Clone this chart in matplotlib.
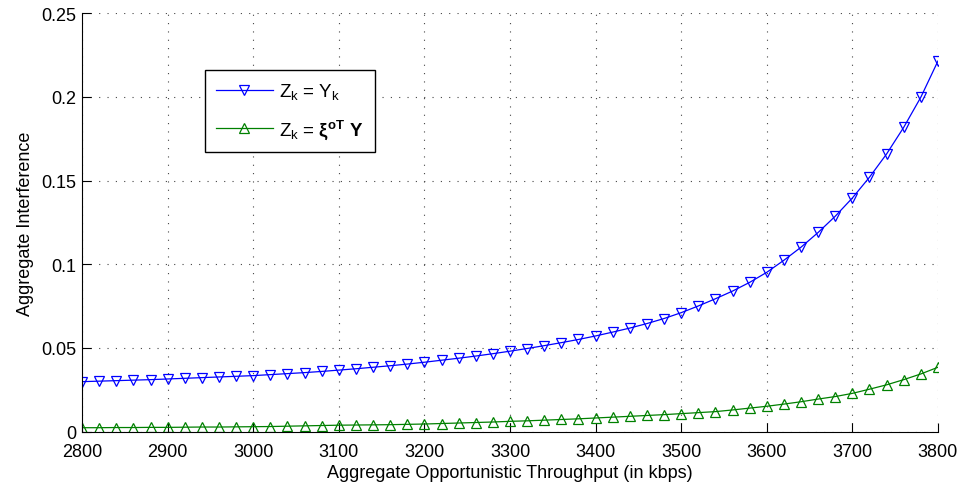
import numpy as np
import matplotlib
matplotlib.use("Agg")
from matplotlib import pyplot as plt

plt.rcParams['font.family'] = ['Liberation Sans', 'DejaVu Sans']
plt.rcParams['mathtext.fontset'] = 'custom'
plt.rcParams['mathtext.rm'] = 'Liberation Sans'
plt.rcParams['mathtext.it'] = 'Liberation Sans'
plt.rcParams['mathtext.bf'] = 'Liberation Sans:bold'

# throughput (kbps), one point every 20
throughput = np.arange(2800, 3801, 20)

# Z_k = Y_k
interf_y = [0.0299, 0.0302, 0.0305, 0.0308, 0.0311, 0.0315, 0.0319, 0.0323, 0.0327, 0.0331,
            0.0335, 0.0341, 0.0347, 0.0353, 0.0360, 0.0368, 0.0376, 0.0385, 0.0394, 0.0404,
            0.0415, 0.0427, 0.0439, 0.0452, 0.0466, 0.0481, 0.0497, 0.0514, 0.0532, 0.0551,
            0.0572, 0.0595, 0.0619, 0.0646, 0.0676, 0.0711, 0.0751, 0.0794, 0.0840, 0.0892,
            0.0952, 0.1024, 0.1102, 0.1190, 0.1287, 0.1396, 0.1520, 0.1659, 0.1818, 0.1998,
            0.2214]

# Z_k = xi^oT Y
interf_xi = [0.0024, 0.0024, 0.0025, 0.0025, 0.0026, 0.0026, 0.0027, 0.0028, 0.0028, 0.0029,
             0.0030, 0.0031, 0.0033, 0.0035, 0.0037, 0.0039, 0.0040, 0.0041, 0.0042, 0.0044,
             0.0046, 0.0049, 0.0052, 0.0055, 0.0058, 0.0062, 0.0065, 0.0069, 0.0073, 0.0077,
             0.0082, 0.0087, 0.0092, 0.0097, 0.0102, 0.0108, 0.0114, 0.0120, 0.0130, 0.0141,
             0.0152, 0.0165, 0.0179, 0.0195, 0.0210, 0.0229, 0.0254, 0.0280, 0.0311, 0.0345,
             0.0385]

x_ticks = [2800, 2900, 3000, 3100, 3200, 3300, 3400, 3500, 3600, 3700, 3800]
y_ticks = [0, 0.05, 0.1, 0.15, 0.2, 0.25]
y_tick_labels = ["0", "0.05", "0.1", "0.15", "0.2", "0.25"]

fig = plt.figure(figsize=(9.63, 4.89), dpi=100)
ax = fig.add_axes([0.0852, 0.1151, 0.8888, 0.856])

ax.plot(throughput, interf_y, color="#0000ff", lw=0.9, marker="v", ms=7.5,
        markerfacecolor="none", markeredgewidth=0.9, label=r"$Z_k$ = $Y_k$")
ax.plot(throughput, interf_xi, color="#008000", lw=0.9, marker="^", ms=7.5,
        markerfacecolor="none", markeredgewidth=0.9, label=r"$Z_k$ = $\mathbf{ξ^{oT}}$ $\mathbf{Y}$")

ax.set_xlim(2800, 3800)
ax.set_ylim(0, 0.25)
ax.set_xticks(x_ticks)
ax.set_yticks(y_ticks)
ax.set_yticklabels(y_tick_labels)
ax.tick_params(direction="in", length=6.5, width=0.8, labelsize=13)
ax.tick_params(axis="x", pad=8)
ax.tick_params(axis="y", pad=4)
ax.spines["top"].set_visible(False)
ax.spines["right"].set_visible(False)
ax.grid(True, color="#444444", linestyle=(0, (1, 6.5)), linewidth=0.8)
ax.set_axisbelow(True)

ax.set_xlabel("Aggregate Opportunistic Throughput (in kbps)", fontsize=13, labelpad=3)
ax.set_ylabel("Aggregate Interference", fontsize=13, labelpad=5)

leg = ax.legend(loc="upper left", bbox_to_anchor=(0.1437, 0.864), borderaxespad=0,
                fontsize=13.5, fancybox=False, framealpha=1, edgecolor="black",
                handlelength=3.0, handletextpad=0.35, borderpad=0.6, labelspacing=0.85)
leg.get_frame().set_linewidth(1.0)

fig.savefig("out.png", dpi=100)
